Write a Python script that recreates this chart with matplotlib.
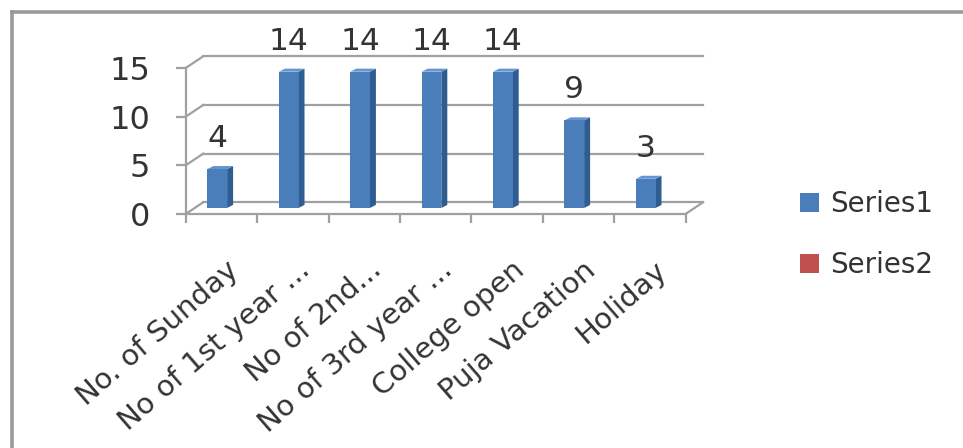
import matplotlib
matplotlib.use("Agg")
import matplotlib.pyplot as plt
from matplotlib.patches import Polygon, Rectangle, Patch
from matplotlib.lines import Line2D

# ---------------- data ----------------
categories = ["No. of Sunday", "No of 1st year ...", "No of 2nd...",
              "No of 3rd year ...", "College open", "Puja Vacation", "Holiday"]
series1 = [4, 14, 14, 14, 14, 9, 3]
series_names = ["Series1", "Series2"]
yticks = [0, 5, 10, 15]

# ---------------- style ----------------
FRONT = "#4a7ebb"
SIDE = "#2f5d92"
TOP = "#6395d3"
RED = "#c0504d"
GRID = "#a0a0a0"
TEXT = "#333333"
FONT = "DejaVu Sans"

# pseudo-3D geometry (in data units)
DX, DY = 0.245, 1.2        # depth offset of back wall
BX0, BW = 0.305, 0.275     # bar front-face start within category, width
BY = 0.62                  # bar base lift (bar sits inside the depth)
SX, SY = 0.084, 0.31       # bar depth

W, H = 963, 448
fig = plt.figure(figsize=(W / 100, H / 100), dpi=100)
fig.patch.set_facecolor("white")

# chart frame
fig.add_artist(Line2D([12 / W, 1], [1 - 12 / H] * 2, transform=fig.transFigure,
                      color="#9a9a9a", lw=2.6))
fig.add_artist(Line2D([12 / W] * 2, [0, 1 - 12 / H], transform=fig.transFigure,
                      color="#9a9a9a", lw=2.6))

ax = fig.add_axes([185.7 / W, 1 - 214 / H, 499.8 / W, 146 / H])
ax.set_facecolor("none")
n = len(categories)
ax.set_xlim(0, n)
ax.set_ylim(0, yticks[-1])

for s in ("top", "right"):
    ax.spines[s].set_visible(False)
for s in ("left", "bottom"):
    ax.spines[s].set_color(GRID)
    ax.spines[s].set_linewidth(1.6)

ax.set_yticks(yticks)
ax.set_yticklabels([str(v) for v in yticks])
ax.tick_params(axis="y", direction="out", length=7.5, width=1.6, color=GRID,
               pad=18, labelsize=23, labelcolor=TEXT)
ax.set_xticks(range(n + 1))
ax.set_xticklabels([])
ax.tick_params(axis="x", direction="out", length=6.5, width=1.6, color=GRID)
for lab in ax.get_yticklabels():
    lab.set_fontfamily(FONT)

# walls: back gridlines, side diagonals, floor
for v in yticks:
    ax.plot([DX, n + DX], [v + DY, v + DY], color=GRID, lw=1.6, clip_on=False, zorder=1)
    ax.plot([0, DX], [v, v + DY], color=GRID, lw=1.6, clip_on=False, zorder=1)
ax.plot([n, n + DX], [0, DY], color=GRID, lw=1.6, clip_on=False, zorder=1)

# bars
for i, v in enumerate(series1):
    x0 = i + BX0
    x1 = x0 + BW
    y0 = BY
    y1 = BY + v
    side = Polygon([(x1, y0), (x1 + SX, y0 + SY), (x1 + SX, y1 + SY), (x1, y1)],
                   closed=True, facecolor=SIDE, edgecolor="none", clip_on=False, zorder=3)
    top = Polygon([(x0, y1), (x1, y1), (x1 + SX, y1 + SY), (x0 + SX, y1 + SY)],
                  closed=True, facecolor=TOP, edgecolor="none", clip_on=False, zorder=3)
    front = Rectangle((x0, y0), BW, v, facecolor=FRONT, edgecolor="none",
                      clip_on=False, zorder=4)
    ax.add_patch(side)
    ax.add_patch(top)
    ax.add_patch(front)
    ax.annotate(str(v), xy=(x0 + BW / 2, y1), xytext=(0, 22), textcoords="offset points",
                ha="center", va="center", fontsize=22.5, color=TEXT, family=FONT,
                annotation_clip=False)

# category labels
for i, c in enumerate(categories):
    ax.annotate(c, xy=(i + 0.5, 0), xytext=(3, -30), textcoords="offset points",
                ha="right", va="top", rotation=41, rotation_mode="anchor",
                fontsize=21, color=TEXT, family=FONT, annotation_clip=False)

# legend
handles = [Patch(facecolor=FRONT, edgecolor="none"), Patch(facecolor=RED, edgecolor="none")]
fig.legend(handles, series_names, loc="upper left", bbox_to_anchor=(800 / W, 1 - 190 / H),
           frameon=False, prop={"family": FONT, "size": 20}, labelcolor=TEXT,
           handlelength=0.7, handleheight=0.7, handletextpad=0.4, labelspacing=1.2,
           borderpad=0, borderaxespad=0)

fig.savefig("out.png", dpi=100, facecolor="white")
